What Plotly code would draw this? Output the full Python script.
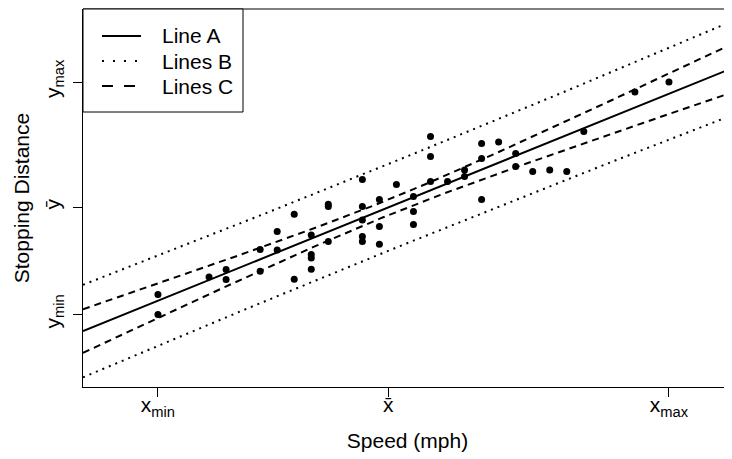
import numpy as np
import plotly.graph_objects as go

speed = [4, 4, 7, 8, 8, 10, 10, 11, 11, 12, 12, 13, 13, 13, 13, 14, 14, 14,
         16, 16, 16, 16, 16, 17, 17, 17, 18, 19, 19, 19, 20, 20, 20, 21, 22, 22,
         23, 23, 23, 24, 25, 25, 26, 27, 28, 29, 32, 34]
dist = [20.2, 10.2, 29.0, 32.7, 27.7, 42.7, 31.9, 51.7, 42.5, 60.4, 27.9, 50.0,
        40.3, 38.5, 32.9, 65.4, 64.2, 46.7, 77.7, 64.2, 57.5, 49.2, 46.7, 67.7,
        54.2, 45.4, 75.2, 69.2, 61.7, 55.3, 99.3, 89.2, 76.7, 76.7, 82.5, 79.2,
        95.8, 88.2, 67.7, 96.5, 90.7, 84.3, 81.7, 82.5, 81.7, 101.8, 121.5, 126.5]

legend_names = ["Line A", "Lines B", "Lines C"]
x_tick_text = ["x<sub>min</sub>", "x\u0304", "x<sub>max</sub>"]
y_tick_text = ["y<sub>min</sub>", "y\u0304", "y<sub>max</sub>"]

x = np.array(speed, dtype=float)
y = np.array(dist, dtype=float)
n = len(x)
xbar, ybar = x.mean(), y.mean()
sxx = ((x - xbar) ** 2).sum()
b1 = ((x - xbar) * (y - ybar)).sum() / sxx
b0 = ybar - b1 * xbar
resid = y - (b0 + b1 * x)
s = np.sqrt((resid ** 2).sum() / (n - 2))
T975 = 2.013          # t quantile (0.975, df = n - 2) -> prediction lines B
W_HOT = 2.530         # Working-Hotelling multiplier sqrt(2 F(0.95; 2, n-2)) -> band C

XR = [-0.40, 37.70]
YR = [-26, 163]
xg = np.linspace(XR[0], XR[1], 300)
fit = b0 + b1 * xg
se_conf = s * np.sqrt(1 / n + (xg - xbar) ** 2 / sxx)
se_pred = s * np.sqrt(1 + 1 / n + (xg - xbar) ** 2 / sxx)

DOT = "2px,5px"
DASH = "7px,5px"
FONT = "Liberation Sans, Arial, Helvetica, sans-serif"
FS = 21
TXT = dict(size=FS, color="black", family=FONT)

fig = go.Figure()
fig.add_trace(go.Scatter(x=xg, y=fit, mode="lines", line=dict(color="black", width=2)))
for sign in (1, -1):
    fig.add_trace(go.Scatter(x=xg, y=fit + sign * T975 * se_pred, mode="lines",
                             line=dict(color="black", width=2, dash=DOT)))
    fig.add_trace(go.Scatter(x=xg, y=fit + sign * W_HOT * se_conf, mode="lines",
                             line=dict(color="black", width=2, dash=DASH)))
fig.add_trace(go.Scatter(x=speed, y=dist, mode="markers",
                         marker=dict(color="black", size=7)))

# page has an 8px body margin: the figure starts at (8, 8)
OFF = 8
W, H = 732 - OFF, 459 - OFF
L, R, T, B = 83 - OFF, 0, 9 - OFF, 459 - 387
pw, ph = W - L - R, H - T - B
def px(xp):
    return (xp - 83) / pw
def py(yp):
    return 1 - (yp - 9) / ph

shapes = [
    dict(type="line", xref="paper", yref="paper", x0=0, x1=1, y0=1, y1=1,
         line=dict(color="black", width=1)),
    dict(type="rect", xref="paper", yref="paper", x0=0, x1=px(243), y0=py(112), y1=1,
         line=dict(color="black", width=1), fillcolor="white", layer="above"),
]
annotations = []
styles = ["solid", "2px,9px", "11px,11px"]
rows = [36, 61, 86]
for name, dash, ry in zip(legend_names, styles, rows):
    shapes.append(dict(type="line", xref="paper", yref="paper", x0=px(102), x1=px(141),
                       y0=py(ry), y1=py(ry), layer="above",
                       line=dict(color="black", width=2, dash=dash)))
    annotations.append(dict(text=name, xref="paper", yref="paper", x=px(160), y=py(ry),
                            xanchor="left", yanchor="middle", showarrow=False,
                            font=TXT))

fig.update_layout(
    width=W, height=H, showlegend=False,
    margin=dict(l=L, r=R, t=T, b=B),
    paper_bgcolor="white", plot_bgcolor="white",
    font=TXT,
    shapes=shapes, annotations=annotations,
)
fig.update_xaxes(range=XR, showgrid=False, zeroline=False, showline=True, automargin=False,
                 linecolor="black", linewidth=1, ticks="outside", ticklen=9,
                 tickcolor="black", tickvals=[x.min(), xbar, x.max()],
                 ticktext=x_tick_text, tickfont=TXT, ticklabelstandoff=-10,
                 title=dict(text="Speed (mph)", font=TXT, standoff=14))
fig.update_yaxes(range=YR, showgrid=False, zeroline=False, showline=True, automargin=False,
                 linecolor="black", linewidth=1, ticks="outside", ticklen=9,
                 tickcolor="black", tickvals=[y.min(), ybar, y.max()],
                 ticktext=y_tick_text, tickangle=-90, tickfont=TXT,
                 ticklabelstandoff=5,
                 title=dict(text="Stopping Distance", font=TXT, standoff=5))

fig.write_html("out.html")
